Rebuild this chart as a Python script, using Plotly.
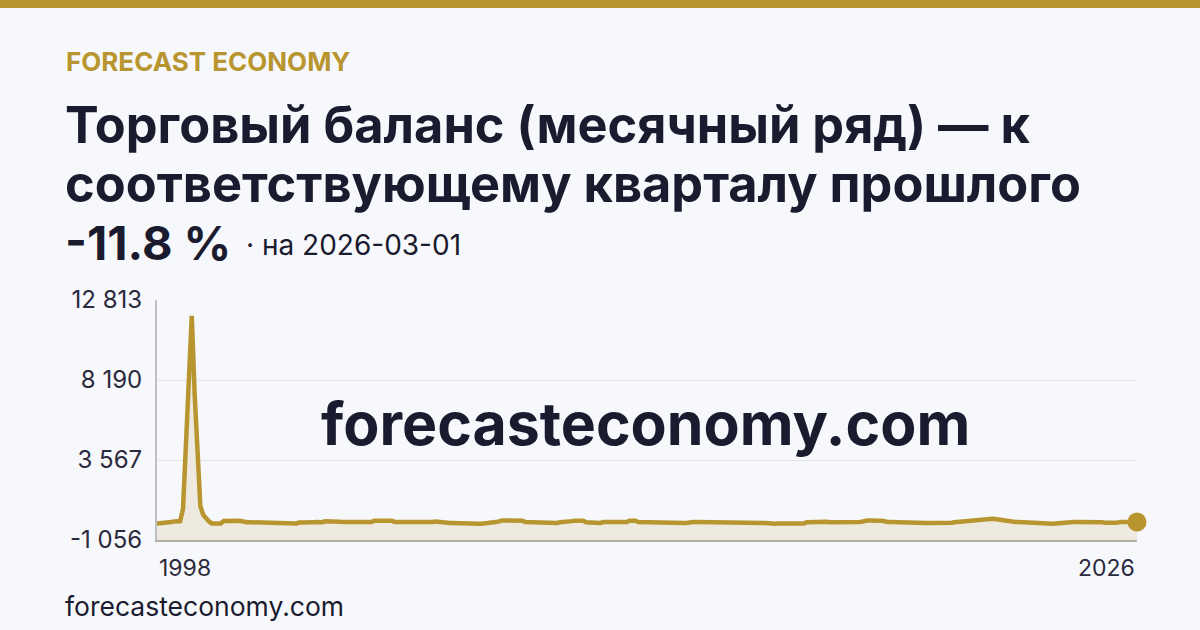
import pandas as pd
import plotly.graph_objects as go

# ---------------- data ----------------
START = "1998-01-01"
END = "2026-03-01"
dates = pd.date_range(START, END, freq="MS")

# monthly values, one row per year (1998 ... 2026)
values = (
    [-110, -105, -98, -35, -29, -22, 20, 29, 35, 741, 4796, 8851]            # 1998
    + [11900, 7287, 3522, 915, 394, 162, 17, -99, -95, -102, -98, 40]       # 1999
    + [55, 62, 66, 60, 52, 45, -25, -30, -28, -33, -27, -31]                # 2000
    + [-40, -95, -108, -112, -110, -115, -109, -113, -107, -111, -114, -108]  # 2001
    + [-100, -45, -30, -28, -25, -31, -27, -22, -30, -26, 25, 30]           # 2002
    + [32, 28, 27, 5, -18, -22, -15, -20, -24, -17, -21, -19]               # 2003
    + [-16, -22, -10, 55, 64, 68, 62, 66, 60, 50, -10, -14]                 # 2004
    + [-12, -8, -15, 20, -11, -13, -9, -38, -44, -41, -15, -10]             # 2005
    + [15, -12, -14, -9, -65, -72, -70, -68, -74, -71, -105, -110]          # 2006
    + [-112, -108, -115, -110, -113, -107, -105, -35, -29, -20, 58, 65]     # 2007
    + [68, 62, 66, 60, 64, 70, 55, -10, -15, -18, -70, -78]                 # 2008
    + [-72, -76, -70, -74, -71, -75, -68, -35, -29, -25, 25, 35]            # 2009
    + [60, 75, 68, 58, -25, -35, -90, -70, -68, -72, -15, -10]              # 2010
    + [-12, -8, -14, -10, -13, -9, -15, 60, 68, 62, -18, -22]               # 2011
    + [-20, -24, -18, -29, -68, -72, -70, -95, -71, -69, -45, -72]          # 2012
    + [-70, -92, -68, -60, -10, -14, -11, -12, -9, -13, -12, -10]           # 2013
    + [-12, -10, -14, -11, -13, -9, -12, -15, -10, -11, -13, -12]           # 2014
    + [-11, -14, -10, -20, -60, -70, -80, -105, -110, -112, -108, -114]     # 2015
    + [-110, -113, -107, -111, -115, -109, -112, -105, -35, -29, -25, 0]    # 2016
    + [5, 30, 8, 2, -25, -30, -28, -32, -27, -29, -31, -26]                 # 2017
    + [-30, -25, -15, -5, 58, 64, 66, 82, 62, 60, 55, -10]                  # 2018
    + [-14, -18, -27, -30, -28, -32, -29, -35, -65, -72, -70, -68]          # 2019
    + [-72, -69, -71, -74, -68, -70, -73, -67, -71, -66, -60, -30]          # 2020
    + [-12, 10, 45, 63, 85, 110, 121, 140, 165, 175, 182, 185]              # 2021
    + [178, 160, 130, 110, 86, 60, 30, 5, -12, -20, -30, -50]               # 2022
    + [-65, -80, -100, -108, -112, -110, -113, -109, -107, -111, -98, -75]  # 2023
    + [-70, -50, -15, -10, -12, -14, -9, -11, -13, -10, -12, -15]           # 2024
    + [-10, -12, -30, -60, -70, -85, -72, -65, -14, -10, -12, -11]          # 2025
    + [-13, -10, -11.8]                                                     # 2026
)

y_ticks = [-1056, 3567, 8190, 12813]
y_tick_labels = ["-1 056", "3 567", "8 190", "12 813"]
x_labels = ["1998", "2026"]

brand = "FORECAST ECONOMY"
title_lines = ["Торговый баланс (месячный ряд) — к", "соответствующему кварталу прошлого"]
headline_value = "-11.8 %"
headline_date = "· на 2026-03-01"
site = "forecasteconomy.com"

# ---------------- style ----------------
W, H = 1200, 630
L, R, T, B = 157, 63, 300, 90
BG = "#F7F8FC"
GOLD = "#B8952F"
FILL = "#EEEADF"
INK = "#1B1B2F"
GRID = "#E3E5EA"
FONT = "Inter"


def px(x):
    return (x - L) / (W - L - R)


def py(y):
    return (H - B - y) / (H - T - B)


fig = go.Figure()

# baseline for the area fill (axis minimum)
fig.add_trace(go.Scatter(
    x=dates, y=[y_ticks[0]] * len(dates), mode="lines",
    line=dict(width=0, color=FILL), hoverinfo="skip", showlegend=False,
))
fig.add_trace(go.Scatter(
    x=dates, y=values, mode="lines", fill="tonexty", fillcolor=FILL,
    line=dict(color=GOLD, width=4.5, shape="linear"), showlegend=False,
    cliponaxis=False,
))
fig.add_trace(go.Scatter(
    x=[dates[-1]], y=[values[-1]], mode="markers",
    marker=dict(color=GOLD, size=19), showlegend=False, cliponaxis=False,
))

fig.update_layout(
    width=W, height=H,
    margin=dict(l=L, r=R, t=T, b=B),
    paper_bgcolor=BG, plot_bgcolor=BG,
    font=dict(family=FONT, color=INK),
    showlegend=False,
    xaxis=dict(
        range=[dates[0], dates[-1]], showgrid=False, zeroline=False,
        showticklabels=False, ticks="",
        showline=True, linecolor="#B3AEA6", linewidth=2,
    ),
    yaxis=dict(
        range=[y_ticks[0], y_ticks[-1]], tickvals=y_ticks, ticktext=y_tick_labels,
        showgrid=True, gridcolor=GRID, gridwidth=1, zeroline=False,
        showline=True, linecolor="#BFC0C4", linewidth=2, ticks="",
        ticklabelstandoff=8,
        tickfont=dict(family=FONT, size=24, color="#2A2A3C"),
    ),
)

# top gold bar
fig.add_shape(type="rect", xref="paper", yref="paper",
              x0=px(0), x1=px(W), y0=py(8), y1=py(0),
              fillcolor=GOLD, line=dict(width=0), layer="above")

ann = []
ann.append(dict(text=brand, x=px(64), y=py(61), xanchor="left", yanchor="middle",
                font=dict(family=FONT, size=26, color=GOLD, weight=700)))
ann.append(dict(text=title_lines[0], x=px(63), y=py(125), xanchor="left", yanchor="middle",
                font=dict(family=FONT, size=50.5, color=INK, weight=700)))
ann.append(dict(text=title_lines[1], x=px(63), y=py(183), xanchor="left", yanchor="middle",
                font=dict(family=FONT, size=50.5, color=INK, weight=700)))
ann.append(dict(text=headline_value, x=px(63), y=py(242), xanchor="left", yanchor="middle",
                font=dict(family=FONT, size=47, color=INK, weight=700)))
ann.append(dict(text=headline_date, x=px(244), y=py(245), xanchor="left", yanchor="middle",
                font=dict(family=FONT, size=28, color=INK)))
ann.append(dict(text=site, x=px(645), y=py(423), xanchor="center", yanchor="middle",
                font=dict(family=FONT, size=59, color=INK, weight=700)))
ann.append(dict(text=site, x=px(63), y=py(606), xanchor="left", yanchor="middle",
                font=dict(family=FONT, size=26.5, color=INK)))
for a in ann:
    a.update(xref="paper", yref="paper", showarrow=False)
    fig.add_annotation(**a)

# x-axis end labels, anchored at the first and last dates
fig.add_annotation(text=x_labels[0], x=dates[0], xref="x", y=py(568), yref="paper",
                   xanchor="left", yanchor="middle", showarrow=False,
                   font=dict(family=FONT, size=23, color="#2A2A3C"))
fig.add_annotation(text=x_labels[1], x=dates[-1], xref="x", y=py(568), yref="paper",
                   xanchor="right", yanchor="middle", showarrow=False,
                   font=dict(family=FONT, size=23, color="#2A2A3C"))

fig.write_html(
    "out.html",
    config={"displayModeBar": False, "staticPlot": True},
    post_script="document.body.style.margin='0';document.body.style.padding='0';"
                "document.documentElement.style.overflow='hidden';",
)
